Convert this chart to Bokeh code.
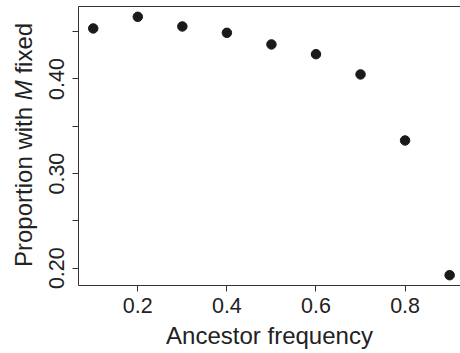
from bokeh.plotting import figure
from bokeh.models import Range1d, FixedTicker, LinearAxis, Div
from bokeh.layouts import row
from bokeh.embed import file_html
from bokeh.resources import INLINE

# ---- data ----
ancestor_freq = [0.1, 0.2, 0.3, 0.4, 0.5, 0.6, 0.7, 0.8, 0.9]
prop_m_fixed = [0.4534, 0.4657, 0.4555, 0.4488, 0.4365, 0.4262, 0.4048, 0.3350, 0.1926]
x_ticks = [0.2, 0.4, 0.6, 0.8]
y_ticks = [0.20, 0.25, 0.30, 0.35, 0.40, 0.45]
y_tick_labels = {0.2: "0.20", 0.25: "", 0.3: "0.30", 0.35: "", 0.4: "0.40", 0.45: ""}
x_title = "Ancestor frequency"
y_title_html = "Proportion with <i>M</i> fixed"

W, H = 460, 353
DIV_W = 40
FL, FR, FT, FB = 78, 460, 6, 285  # frame edges in px (page coords)
X0, X1 = 0.0669, 0.9244
Y0, Y1 = 0.1817, 0.4766

FONT = "Liberation Sans"
TXT = "#222222"
AX = "#333333"

p = figure(width=W - DIV_W, height=H, output_backend="svg", toolbar_location=None,
           x_range=Range1d(X0, X1), y_range=Range1d(Y0, Y1),
           x_axis_location=None, y_axis_location=None,
           min_border_left=FL - DIV_W, min_border_right=W - FR,
           min_border_top=FT, min_border_bottom=H - FB)
p.outline_line_color = None
p.grid.visible = False
p.background_fill_color = "white"
p.border_fill_color = "white"

def style_axis(ax):
    ax.axis_line_color = AX
    ax.axis_line_width = 1
    ax.major_tick_line_color = AX
    ax.major_tick_in = 0
    ax.major_tick_out = 6
    ax.minor_tick_line_color = None
    ax.major_label_text_font = FONT
    ax.major_label_text_font_size = "21.5px"
    ax.major_label_text_color = TXT

xax = LinearAxis(ticker=FixedTicker(ticks=x_ticks))
style_axis(xax)
xax.major_label_standoff = 6
xax.axis_label = x_title
xax.axis_label_text_font = FONT
xax.axis_label_text_font_size = "24px"
xax.axis_label_text_font_style = "normal"
xax.axis_label_text_color = TXT
xax.axis_label_standoff = 6
p.add_layout(xax, "below")

yax = LinearAxis(ticker=FixedTicker(ticks=y_ticks), major_label_overrides=y_tick_labels)
style_axis(yax)
yax.major_label_orientation = "vertical"
yax.major_label_standoff = 8
p.add_layout(yax, "left")

tax = LinearAxis(ticker=FixedTicker(ticks=[]))
tax.axis_line_color = AX
tax.major_tick_line_color = None
tax.minor_tick_line_color = None
tax.major_label_text_font_size = "0px"
tax.major_label_standoff = 0
p.add_layout(tax, "above")

p.scatter(ancestor_freq, prop_m_fixed, size=9.5, color="#1a1a1a")

ylab = Div(
    text=(f'<div style="position:absolute; left:10px; top:267px; '
          f'transform:rotate(-90deg); transform-origin:left top; white-space:nowrap; '
          f"font-family:'{FONT}'; font-size:24px; line-height:normal; color:{TXT};\">"
          f"{y_title_html}</div>"),
    width=DIV_W, height=H, margin=0,
    styles={"position": "relative", "overflow": "visible"},
)

layout = row(ylab, p, spacing=0, margin=0)
open("out.html", "w").write(file_html(layout, INLINE))
